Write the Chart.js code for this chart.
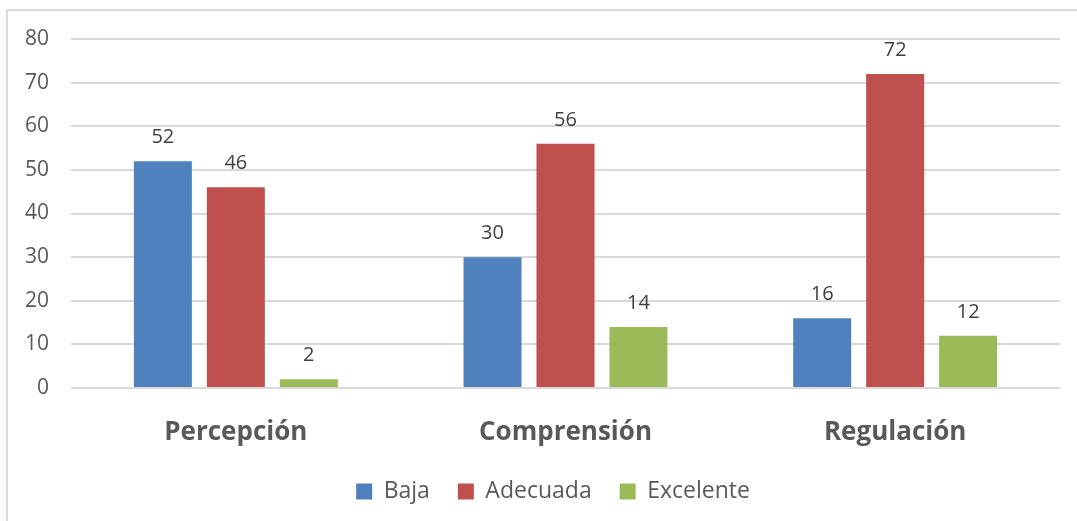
<!DOCTYPE html>
<html>
<head>
<meta charset="utf-8">
<script src="https://cdn.jsdelivr.net/npm/chart.js@4"></script>
<style>
  html, body { margin: 0; padding: 0; background: #fff; overflow: hidden; }
  #frame {
    position: absolute; left: 6px; top: 9px; width: 1200px; height: 700px;
    border-left: 2px solid #d9d9d9; border-top: 2px solid #d9d9d9;
  }
  #chart { position: absolute; left: 0; top: 0; }
</style>
</head>
<body>
<div id="frame"></div>
<canvas id="chart" width="1077" height="521"></canvas>
<script>
// categories and series
const categories = ["Percepción", "Comprensión", "Regulación"];
const baja = [52, 30, 16];
const adecuada = [46, 56, 72];
const excelente = [2, 14, 12];
const yTicks = [0, 10, 20, 30, 40, 50, 60, 70, 80];

const fontFamily = "'Open Sans', 'Liberation Sans', sans-serif";

// value printed above each bar
const barValues = {
  id: "barValues",
  afterDatasetsDraw(chart) {
    const ctx = chart.ctx;
    ctx.save();
    ctx.font = "20px " + fontFamily;
    ctx.fillStyle = "#404040";
    ctx.textAlign = "center";
    ctx.textBaseline = "alphabetic";
    chart.data.datasets.forEach((ds, i) => {
      chart.getDatasetMeta(i).data.forEach((bar, j) => {
        ctx.fillText(String(ds.data[j]), bar.x, bar.y - 18);
      });
    });
    ctx.restore();
  }
};

// nudge the legend a bit right so it sits under the middle of the frame
const legendShift = {
  id: "legendShift",
  afterLayout(chart) {
    if (chart.legend) {
      chart.legend.left += 23;
      chart.legend.right += 23;
    }
  }
};

new Chart(document.getElementById("chart"), {
  type: "bar",
  data: {
    labels: categories,
    datasets: [
      { label: "Baja", data: baja, backgroundColor: "#4f81bd" },
      { label: "Adecuada", data: adecuada, backgroundColor: "#c0504d" },
      { label: "Excelente", data: excelente, backgroundColor: "#9bbb59" }
    ]
  },
  options: {
    responsive: false,
    animation: false,
    categoryPercentage: 0.664,
    barPercentage: 0.795,
    layout: { padding: { top: 39, right: 17, left: 0, bottom: 8 } },
    scales: {
      x: {
        grid: { display: false },
        border: { display: false },
        ticks: {
          color: "#595959",
          padding: 21,
          font: { family: fontFamily, size: 26, weight: "bold" }
        },
        afterFit(scale) { scale.height = 64; }
      },
      y: {
        min: 0,
        max: 80,
        afterBuildTicks(scale) { scale.ticks = yTicks.map(v => ({ value: v })); },
        grid: { color: "#d9d9d9", lineWidth: 2, drawTicks: false },
        border: { display: false },
        ticks: {
          color: "#595959",
          padding: 22,
          font: { family: fontFamily, size: 21 }
        },
        afterFit(scale) { scale.width = 71; }
      }
    },
    plugins: {
      tooltip: { enabled: false },
      legend: {
        position: "bottom",
        labels: {
          boxWidth: 16,
          boxHeight: 16,
          padding: 28,
          color: "#595959",
          font: { family: fontFamily, size: 23 }
        }
      }
    }
  },
  plugins: [barValues, legendShift]
});
</script>
</body>
</html>
